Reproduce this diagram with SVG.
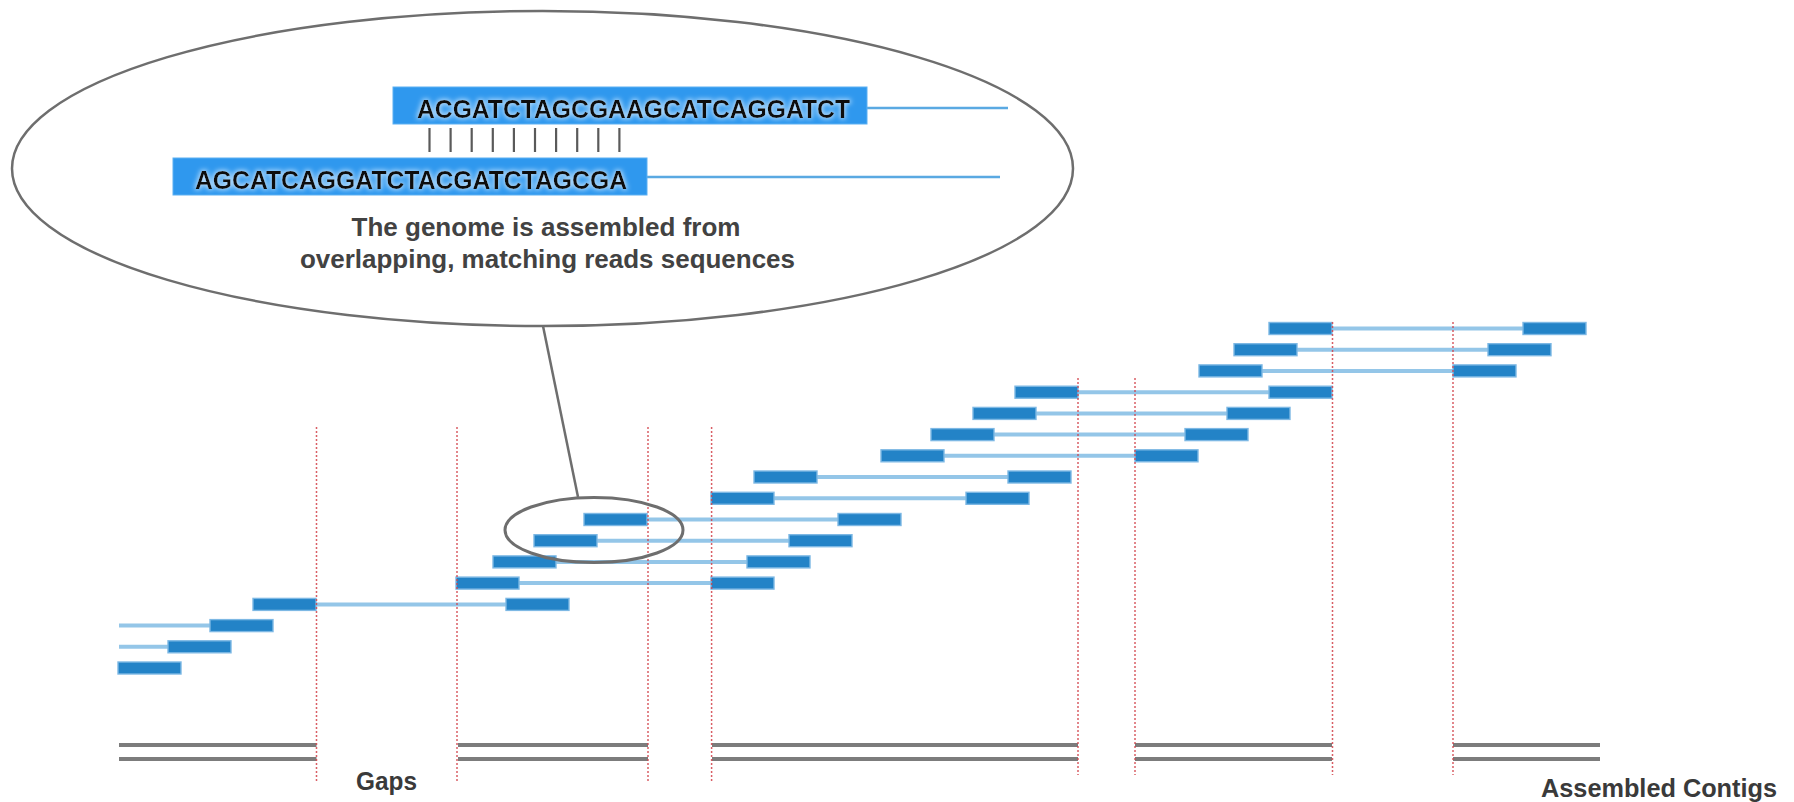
<svg xmlns="http://www.w3.org/2000/svg" width="1794" height="802" viewBox="0 0 1794 802">
<defs>
<style>
.read{fill:#2383c7;stroke:#7db8e4;stroke-width:1.4}
.mate{stroke:#94c6e8;stroke-width:4;fill:none}
.cut{stroke:#d2424a;stroke-width:1.5;stroke-dasharray:2 2;fill:none;opacity:0.85}
.contig{stroke:#7c7c7c;stroke-width:4;fill:none}
.seqbox{fill:#2f98ee;stroke:#5cb0f2;stroke-width:1}
.seqline{stroke:#5aa9e2;stroke-width:2.5;fill:none}
.seq{font-family:"Liberation Sans",Arial,sans-serif;font-weight:bold;font-size:25px;fill:#0a0a0a}
.cap{font-family:"Liberation Sans",Arial,sans-serif;font-weight:bold;font-size:26px;fill:#424242}
.lbl{font-family:"Liberation Sans",Arial,sans-serif;font-weight:bold;font-size:25px;fill:#3a3a3a}
.tick{stroke:#5a5a5a;stroke-width:2.2}
.oval{fill:none;stroke:#6e6e6e}
</style>
<filter id="glow" x="-5%" y="-40%" width="110%" height="180%">
<feMorphology in="SourceAlpha" operator="dilate" radius="1.2" result="d"/>
<feGaussianBlur in="d" stdDeviation="2.5" result="b"/>
<feFlood flood-color="#d6ecff" flood-opacity="0.8"/>
<feComposite in2="b" operator="in" result="g"/>
<feMerge><feMergeNode in="g"/><feMergeNode in="SourceGraphic"/></feMerge>
</filter>
</defs>
<rect width="1794" height="802" fill="#ffffff"/>

<!-- zoom callout -->
<g id="callout">
<ellipse class="oval" cx="542.5" cy="168.5" rx="530.5" ry="157.5" stroke-width="2.5"/>
</g>
<g id="seq-top">
<line class="seqline" x1="866" y1="108" x2="1008" y2="108"/>
<rect class="seqbox" x="393" y="87" width="474" height="37"/>
<text class="seq" x="417" y="118" textLength="433" lengthAdjust="spacingAndGlyphs" filter="url(#glow)">ACGATCTAGCGAAGCATCAGGATCT</text>
</g>
<g id="match-ticks">
<line class="tick" x1="429.5" y1="128" x2="429.5" y2="152"/>
<line class="tick" x1="450.6" y1="128" x2="450.6" y2="152"/>
<line class="tick" x1="471.7" y1="128" x2="471.7" y2="152"/>
<line class="tick" x1="492.8" y1="128" x2="492.8" y2="152"/>
<line class="tick" x1="513.9" y1="128" x2="513.9" y2="152"/>
<line class="tick" x1="535" y1="128" x2="535" y2="152"/>
<line class="tick" x1="556.1" y1="128" x2="556.1" y2="152"/>
<line class="tick" x1="577.2" y1="128" x2="577.2" y2="152"/>
<line class="tick" x1="598.3" y1="128" x2="598.3" y2="152"/>
<line class="tick" x1="619.4" y1="128" x2="619.4" y2="152"/>
</g>
<g id="seq-bottom">
<line class="seqline" x1="646" y1="177" x2="1000" y2="177"/>
<rect class="seqbox" x="173" y="158" width="474" height="37"/>
<text class="seq" x="195" y="189" textLength="432" lengthAdjust="spacingAndGlyphs" filter="url(#glow)">AGCATCAGGATCTACGATCTAGCGA</text>
</g>
<g id="caption">
<text class="cap" x="546" y="236" text-anchor="middle" textLength="389" lengthAdjust="spacingAndGlyphs">The genome is assembled from</text>
<text class="cap" x="547.5" y="268" text-anchor="middle" textLength="495" lengthAdjust="spacingAndGlyphs">overlapping, matching reads sequences</text>
</g>

<!-- contig bars -->
<g id="contigs">
<line class="contig" x1="119" y1="745" x2="316.5" y2="745"/><line class="contig" x1="119" y1="759" x2="316.5" y2="759"/>
<line class="contig" x1="458" y1="745" x2="648" y2="745"/><line class="contig" x1="458" y1="759" x2="648" y2="759"/>
<line class="contig" x1="712" y1="745" x2="1078" y2="745"/><line class="contig" x1="712" y1="759" x2="1078" y2="759"/>
<line class="contig" x1="1135" y1="745" x2="1332" y2="745"/><line class="contig" x1="1135" y1="759" x2="1332" y2="759"/>
<line class="contig" x1="1453" y1="745" x2="1600" y2="745"/><line class="contig" x1="1453" y1="759" x2="1600" y2="759"/>
</g>

<!-- mate-pair links -->
<g id="connectors">
<line class="mate" x1="1300" y1="328.5" x2="1555" y2="328.5"/>
<line class="mate" x1="1265" y1="349.7" x2="1520" y2="349.7"/>
<line class="mate" x1="1230" y1="370.9" x2="1485" y2="370.9"/>
<line class="mate" x1="1046" y1="392.2" x2="1300" y2="392.2"/>
<line class="mate" x1="1004" y1="413.4" x2="1258" y2="413.4"/>
<line class="mate" x1="962" y1="434.6" x2="1216" y2="434.6"/>
<line class="mate" x1="912" y1="455.8" x2="1166" y2="455.8"/>
<line class="mate" x1="785" y1="477" x2="1039" y2="477"/>
<line class="mate" x1="742" y1="498.3" x2="997" y2="498.3"/>
<line class="mate" x1="615" y1="519.5" x2="869" y2="519.5"/>
<line class="mate" x1="565" y1="540.7" x2="820" y2="540.7"/>
<line class="mate" x1="524" y1="561.9" x2="778" y2="561.9"/>
<line class="mate" x1="487" y1="583.1" x2="742" y2="583.1"/>
<line class="mate" x1="284" y1="604.4" x2="537" y2="604.4"/>
<line class="mate" x1="119" y1="625.6" x2="241" y2="625.6"/>
<line class="mate" x1="119" y1="646.8" x2="199" y2="646.8"/>
<line x1="543" y1="326" x2="578" y2="497" stroke="#6e6e6e" stroke-width="2.5"/>
</g>

<!-- reads -->
<g id="row-a"><rect class="read" x="1269" y="322.5" width="63" height="12"/><rect class="read" x="1523" y="322.5" width="63" height="12"/></g>
<g id="row-b"><rect class="read" x="1234" y="343.7" width="63" height="12"/><rect class="read" x="1488" y="343.7" width="63" height="12"/></g>
<g id="row-c"><rect class="read" x="1199" y="364.9" width="63" height="12"/><rect class="read" x="1453" y="364.9" width="63" height="12"/></g>
<g id="row-d"><rect class="read" x="1015" y="386.2" width="63" height="12"/><rect class="read" x="1269" y="386.2" width="63" height="12"/></g>
<g id="row-e"><rect class="read" x="973" y="407.4" width="63" height="12"/><rect class="read" x="1227" y="407.4" width="63" height="12"/></g>
<g id="row-f"><rect class="read" x="931" y="428.6" width="63" height="12"/><rect class="read" x="1185" y="428.6" width="63" height="12"/></g>
<g id="row-g"><rect class="read" x="881" y="449.8" width="63" height="12"/><rect class="read" x="1135" y="449.8" width="63" height="12"/></g>
<g id="row-h"><rect class="read" x="754" y="471" width="63" height="12"/><rect class="read" x="1008" y="471" width="63" height="12"/></g>
<g id="row-i"><rect class="read" x="711" y="492.3" width="63" height="12"/><rect class="read" x="966" y="492.3" width="63" height="12"/></g>
<g id="row-j"><rect class="read" x="584" y="513.5" width="63" height="12"/><rect class="read" x="838" y="513.5" width="63" height="12"/></g>
<g id="row-k"><rect class="read" x="534" y="534.7" width="63" height="12"/><rect class="read" x="789" y="534.7" width="63" height="12"/></g>
<g id="row-l"><rect class="read" x="493" y="555.9" width="63" height="12"/><rect class="read" x="747" y="555.9" width="63" height="12"/></g>
<g id="row-m"><rect class="read" x="456" y="577.1" width="63" height="12"/><rect class="read" x="711" y="577.1" width="63" height="12"/></g>
<g id="row-n"><rect class="read" x="253" y="598.4" width="63" height="12"/><rect class="read" x="506" y="598.4" width="63" height="12"/></g>
<g id="row-o"><rect class="read" x="210" y="619.6" width="63" height="12"/></g>
<g id="row-p"><rect class="read" x="168" y="640.8" width="63" height="12"/></g>
<g id="row-q"><rect class="read" x="118" y="662" width="63" height="12"/></g>

<!-- contig boundaries -->
<g id="boundaries">
<line class="cut" x1="316.5" y1="427" x2="316.5" y2="781"/>
<line class="cut" x1="457" y1="427" x2="457" y2="781"/>
<line class="cut" x1="648" y1="427" x2="648" y2="781"/>
<line class="cut" x1="711.6" y1="427" x2="711.6" y2="781"/>
<line class="cut" x1="1078" y1="378" x2="1078" y2="775"/>
<line class="cut" x1="1135" y1="378" x2="1135" y2="775"/>
<line class="cut" x1="1332.5" y1="322" x2="1332.5" y2="775"/>
<line class="cut" x1="1453" y1="322" x2="1453" y2="775"/>
</g>

<g id="zoom-ring">
<ellipse class="oval" cx="594" cy="530" rx="89" ry="32.5" stroke-width="3"/>
</g>

<g id="label-gaps"><text class="lbl" x="356" y="790" textLength="61" lengthAdjust="spacingAndGlyphs">Gaps</text></g>
<g id="label-contigs"><text class="lbl" x="1541" y="797" textLength="236" lengthAdjust="spacingAndGlyphs">Assembled Contigs</text></g>
</svg>
